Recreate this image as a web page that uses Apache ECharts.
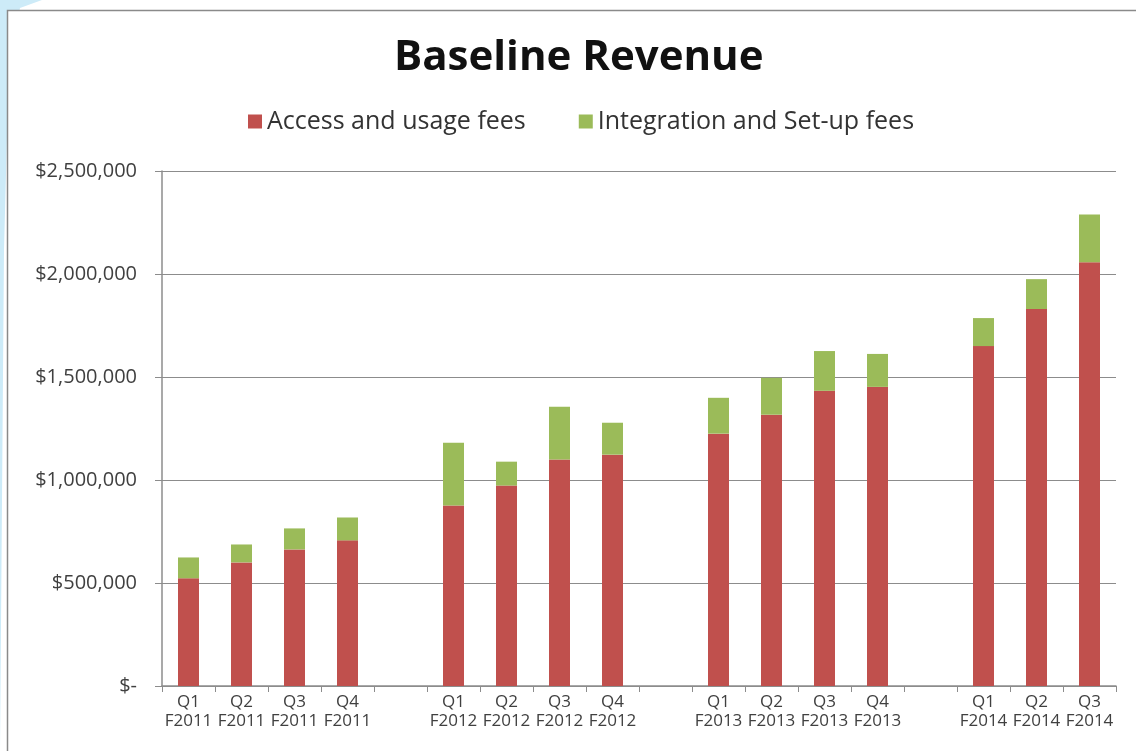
<!DOCTYPE html>
<html>
<head>
<meta charset="utf-8">
<script src="https://cdn.jsdelivr.net/npm/echarts@6/dist/echarts.min.js"></script>
<style>
html,body{margin:0;padding:0;background:#fff;}
#c{width:1136px;height:751px;}
</style>
</head>
<body>
<div id="c"></div>
<script>
const categories = ['Q1\nF2011','Q2\nF2011','Q3\nF2011','Q4\nF2011','',
  'Q1\nF2012','Q2\nF2012','Q3\nF2012','Q4\nF2012','',
  'Q1\nF2013','Q2\nF2013','Q3\nF2013','Q4\nF2013','',
  'Q1\nF2014','Q2\nF2014','Q3\nF2014'];
const accessFees = [523000, 600000, 663000, 707000, null,
  876000, 973000, 1099000, 1123000, null,
  1225000, 1317000, 1433000, 1452000, null,
  1650000, 1830000, 2057000];
const integrationFees = [101000, 87000, 102000, 111000, null,
  305000, 116000, 256000, 155000, null,
  174000, 179000, 193000, 160000, null,
  136000, 145000, 232000];

const chart = echarts.init(document.getElementById('c'));
const fontFam = '"Open Sans", "Noto Sans", sans-serif';
chart.setOption({
  backgroundColor: '#fff',
  animation: false,
  graphic: [
    { type: 'polygon', z: -10, shape: { points: [[0,0],[42,0],[20,8],[9,60],[4,250],[2,500],[0,751]] },
      style: { fill: '#cdebf8' } },
    { type: 'rect', z: -5, shape: { x: 7.5, y: 10.5, width: 1200, height: 800 },
      style: { fill: '#fff', stroke: '#8a8a8a', lineWidth: 1.5 } }
  ],
  title: {
    text: 'Baseline Revenue',
    left: 389, top: 32,
    textStyle: { fontFamily: fontFam, fontWeight: 'bold', fontSize: 42, color: '#111' }
  },
  legend: {
    top: 104, left: 243,
    itemWidth: 14, itemHeight: 14, itemGap: 53,
    textStyle: { fontFamily: fontFam, fontSize: 25, color: '#333' },
    data: [{ name: 'Access and usage fees', icon: 'rect' }, { name: 'Integration and Set-up fees', icon: 'rect' }]
  },
  grid: { left: 162, right: 20, top: 171, bottom: 65 },
  xAxis: {
    type: 'category',
    data: categories,
    boundaryGap: true,
    axisLine: { lineStyle: { color: '#8c8c8c', width: 1.5 } },
    axisTick: { show: true, interval: 0, alignWithLabel: false, length: 6, lineStyle: { color: '#8c8c8c' } },
    axisLabel: { interval: 0, fontFamily: fontFam, fontSize: 17, color: '#404040', lineHeight: 19, margin: 7 }
  },
  yAxis: {
    type: 'value',
    min: 0, max: 2500000, interval: 500000,
    axisLine: { show: true, lineStyle: { color: '#8c8c8c', width: 1.5 } },
    axisTick: { show: true, length: 7, lineStyle: { color: '#8c8c8c' } },
    splitLine: { lineStyle: { color: '#8c8c8c', width: 1.2 } },
    axisLabel: {
      fontFamily: fontFam, fontSize: 20, color: '#404040', margin: 25,
      formatter: function (v) { return v === 0 ? '$-' : '$' + v.toLocaleString('en-US'); }
    }
  },
  series: [
    { name: 'Access and usage fees', type: 'bar', stack: 'rev', barWidth: 21,
      itemStyle: { color: '#C0504D' }, data: accessFees },
    { name: 'Integration and Set-up fees', type: 'bar', stack: 'rev', barWidth: 21,
      itemStyle: { color: '#9BBB59' }, data: integrationFees }
  ]
});
</script>
</body>
</html>
